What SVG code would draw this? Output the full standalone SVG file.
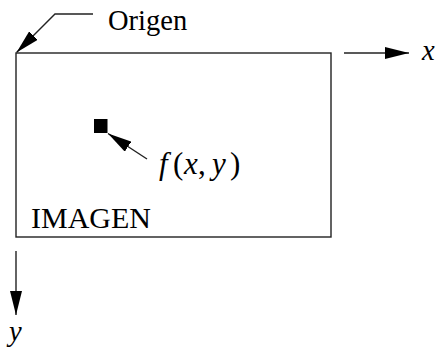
<svg xmlns="http://www.w3.org/2000/svg" width="437" height="349" viewBox="0 0 437 349">
<style>
.ln{stroke:#222;stroke-width:1.4;fill:none}
.t{font-family:"Liberation Serif","Times New Roman",serif;font-size:28.5px;fill:#000}
.i{font-style:italic}
</style>
<defs>
<marker id="ah" markerUnits="userSpaceOnUse" markerWidth="24" markerHeight="12" refX="24" refY="6" orient="auto">
<path d="M0,0 L24,6 L0,12 z" fill="#000"/>
</marker>
</defs>
<g id="image">
<rect x="16" y="53" width="315" height="184" class="ln"/>
<text class="t" x="31" y="227.5" style="font-size:30px">IMAGEN</text>
</g>
<g id="pixel">
<rect x="94" y="119" width="13.5" height="14" fill="#000"/>
</g>
<g id="fxy-label">
<text class="t" y="173.5" style="font-size:31px"><tspan class="i" x="159">f</tspan><tspan x="173">(</tspan><tspan class="i" x="184">x</tspan><tspan x="198">,</tspan><tspan class="i" x="212">y</tspan><tspan x="230">)</tspan></text>
</g>
<g id="origen-label">
<text class="t" x="108" y="29.5">Origen</text>
</g>
<g id="x-label">
<text class="t i" x="422" y="60">x</text>
</g>
<g id="y-label">
<text class="t i" x="9" y="341">y</text>
</g>
<g id="connectors">
<path class="ln" d="M93,14 L55,14 L16.5,52.5" marker-end="url(#ah)"/>
<path class="ln" d="M344,53 L409,53" marker-end="url(#ah)"/>
<path class="ln" d="M16,251 L16,315" marker-end="url(#ah)"/>
<path class="ln" d="M147,159 L108,133.5" marker-end="url(#ah)"/>
</g>
</svg>
